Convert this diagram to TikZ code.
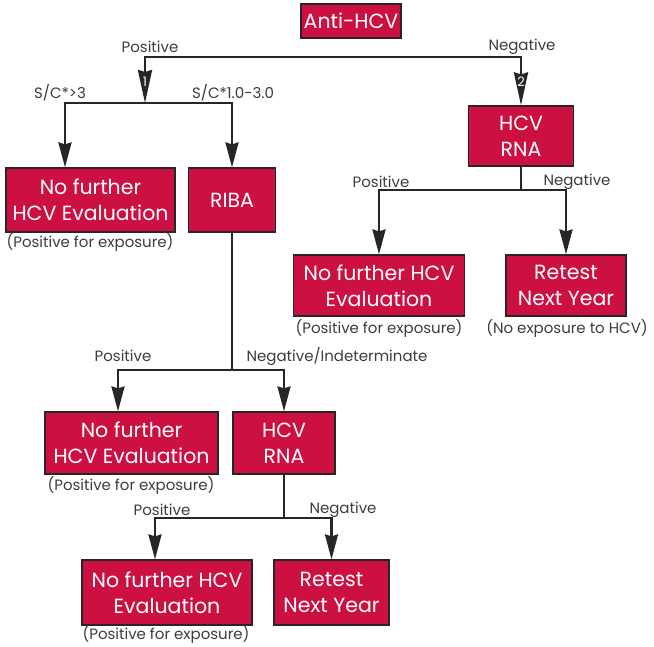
\documentclass[tikz,border=0pt]{standalone}
\usepackage{fontspec}
\setmainfont{Poppins}
\usepackage{tikz}
\usetikzlibrary{arrows.meta}
\definecolor{hcvred}{RGB}{204,16,66}
\definecolor{labgray}{RGB}{60,60,60}

\begin{document}
\begin{tikzpicture}[x=1pt, y=-1pt,
    box/.style={draw=black!85, line width=1.2pt, fill=hcvred, text=white, align=center,
      inner sep=0pt, font=\fontsize{20.5}{26}\selectfont},
    lab/.style={text=labgray, inner sep=0pt, font=\fontsize{15}{16}\selectfont},
    conn/.style={line width=2.4pt, black!85},
    arr/.style={conn, -{Stealth[length=25pt, width=13pt, inset=2pt]}},
    bigarr/.style={conn, -{Stealth[length=33pt, width=14pt, inset=2pt]}}]
  \useasboundingbox (0,0) rectangle (654,647);

  % boxes
  \node[box, minimum width=100pt, minimum height=34pt] (anti) at (351,21) {Anti-HCV};
  \node[box, minimum width=105pt, minimum height=60pt] (rnaA) at (521,136) {HCV\\RNA};
  \node[box, minimum width=169pt, minimum height=64pt] (nofA) at (90.5,200) {No further\\HCV Evaluation};
  \node[box, minimum width=87pt, minimum height=64pt] (riba) at (232,200) {RIBA};
  \node[box, minimum width=171pt, minimum height=61pt] (nofB) at (379,285.5) {No further HCV\\Evaluation};
  \node[box, minimum width=120pt, minimum height=61pt] (retA) at (566,285.5) {Retest\\Next Year};
  \node[box, minimum width=173pt, minimum height=62pt] (nofC) at (131.5,443) {No further\\HCV Evaluation};
  \node[box, minimum width=102pt, minimum height=62pt] (rnaB) at (284,443) {HCV\\RNA};
  \node[box, minimum width=170pt, minimum height=65pt] (nofD) at (167,592.5) {No further HCV\\Evaluation};
  \node[box, minimum width=115pt, minimum height=65pt] (retB) at (331.5,592.5) {Retest\\Next Year};

  % captions
  \node[lab] (capA) at (90,242) {(Positive for exposure)};
  \node[lab] (capB) at (379,328) {(Positive for exposure)};
  \node[lab] (capR) at (567,328) {(No exposure to HCV)};
  \node[lab] (capC) at (131,485) {(Positive for exposure)};
  \node[lab] (capD) at (166,634) {(Positive for exposure)};

  % first split
  \coordinate (top) at (351,57);
  \coordinate (s1) at (145,103);
  \draw[bigarr] (top) -| (s1);
  \draw[bigarr] (top) -| (rnaA.north);
  \node[text=white, font=\fontsize{13}{13}\selectfont] (n1) at (145,82) {1};
  \node[text=white, font=\fontsize{13}{13}\selectfont] (n2) at (521,82) {2};
  \node[lab] (posA) at (150,47) {Positive};
  \node[lab] (negA) at (522,47) {Negative};

  \draw[arr] (s1) -| ([xshift=-25.5pt]nofA.north);
  \draw[arr] (s1) -| (riba.north);
  \node[lab] (sc1) at (60,93) {S/C*>3};
  \node[lab] (sc2) at (233,93) {S/C*1.0-3.0};

  % HCV RNA (negative branch)
  \coordinate (j2) at (521,190);
  \draw[conn] (rnaA.south) -- (j2);
  \draw[arr] (j2) -| (nofB.north);
  \draw[arr] (j2) -| (retA.north);
  \node[lab] (posB) at (381,182) {Positive};
  \node[lab] (negB) at (577,182) {Negative};

  % RIBA
  \coordinate (j3) at (232,370);
  \draw[conn] (riba.south) -- (j3);
  \draw[arr] (j3) -| ([xshift=-13.5pt]nofC.north);
  \draw[arr] (j3) -| (rnaB.north);
  \node[lab] (posC) at (123,356) {Positive};
  \node[lab] (negC) at (337,356) {Negative/Indeterminate};

  % HCV RNA (after RIBA)
  \coordinate (j4) at (284,518);
  \draw[conn] (rnaB.south) -- (j4);
  \draw[arr] (j4) -| ([xshift=-12pt]nofD.north);
  \draw[arr] (j4) -| (retB.north);
  \node[lab] (posD) at (162,510) {Positive};
  \node[lab] (negD) at (343,510) {Negative};
\end{tikzpicture}
\end{document}
